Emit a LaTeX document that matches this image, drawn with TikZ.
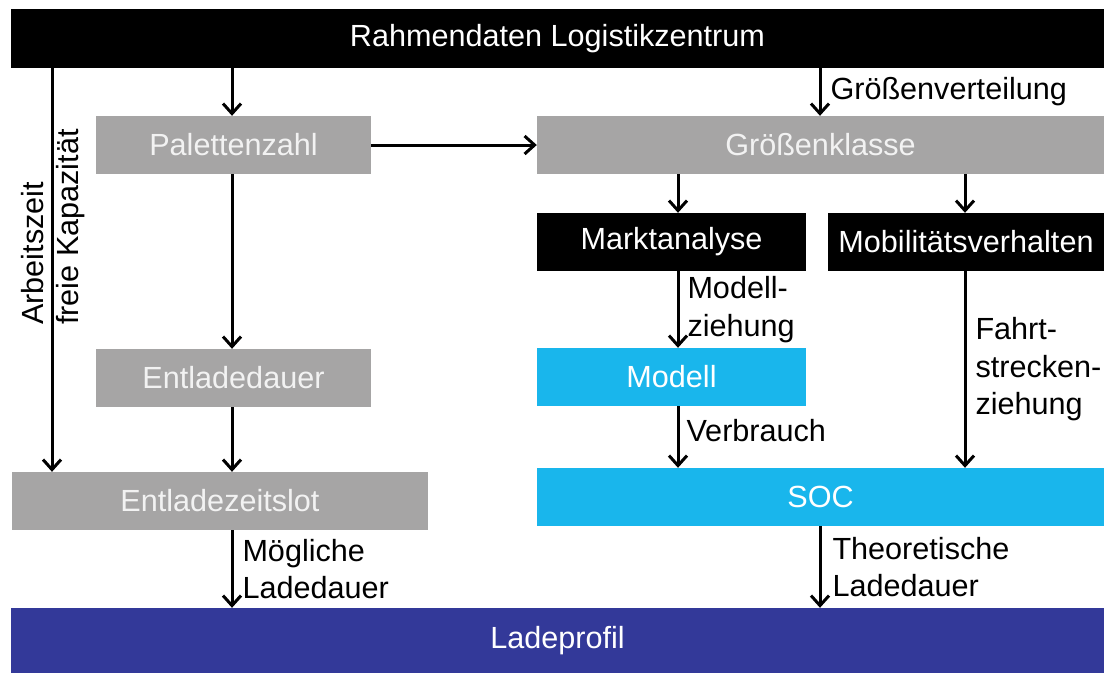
\documentclass[tikz,border=0pt]{standalone}
\usepackage{fontspec}
\setmainfont{Liberation Sans}
\usetikzlibrary{arrows.meta}
\definecolor{boxgray}{RGB}{166,165,165}
\definecolor{boxcyan}{RGB}{25,182,236}
\definecolor{boxblue}{RGB}{51,57,153}
\begin{document}
\begin{tikzpicture}[x=1pt,y=-1pt,
  every node/.style={font=\fontsize{30.6}{37.5}\selectfont},
  block/.style={rectangle, inner sep=0pt, text=white, draw=none},
  graybox/.style={block, fill=boxgray, text=white!95!black},
  blackbox/.style={block, fill=black},
  cyanbox/.style={block, fill=boxcyan},
  bluebox/.style={block, fill=boxblue},
  flow/.style={line width=3pt, -{Straight Barb[length=10pt,width=18pt,line width=3pt]}},
  lab/.style={inner sep=0pt, align=left, text=black, anchor=west},
]
\useasboundingbox (0,0) rectangle (1105,673);

% boxes
\node[blackbox, minimum width=1093pt, minimum height=59pt] (top) at (557.5,38.5) {Rahmendaten Logistikzentrum};
\node[graybox, minimum width=275pt, minimum height=58pt] (pz) at (233.5,145) {Palettenzahl};
\node[graybox, minimum width=567pt, minimum height=58pt] (gk) at (820.5,145) {Größenklasse};
\node[blackbox, minimum width=269pt, minimum height=58pt] (ma) at (671.5,242) {Marktanalyse};
\node[blackbox, minimum width=276pt, minimum height=58pt] (mv) at (966,242) {Mobilitätsverhalten};
\node[graybox, minimum width=275pt, minimum height=58pt] (ed) at (233.5,378) {Entladedauer};
\node[cyanbox, minimum width=269pt, minimum height=58pt] (mo) at (671.5,377) {Modell};
\node[graybox, minimum width=416pt, minimum height=58pt] (ez) at (220,501) {Entladezeitslot};
\node[cyanbox, minimum width=567pt, minimum height=58pt] (soc) at (820.5,497) {SOC};
\node[bluebox, minimum width=1093pt, minimum height=65pt] (lp) at (557.5,640.5) {Ladeprofil};

% x positions of the vertical connectors
\coordinate (cA) at (52,0);
\coordinate (cL) at (232,0);
\coordinate (cM) at (678,0);
\coordinate (cG) at (820,0);
\coordinate (cR) at (965,0);

% connectors
\draw[flow] (top.south -| cA) -- (ez.north -| cA);
\node[lab, rotate=90] (az) at (33,325) {Arbeitszeit};
\node[lab, rotate=90] (fk) at (71,325) {freie Kapazität};

\draw[flow] (top.south -| cL) -- (pz.north -| cL);
\draw[flow] (top.south -| cG) -- node[lab, xshift=9pt] {Größenverteilung} (gk.north -| cG);
\draw[flow] (pz.east) -- (gk.west);
\draw[flow] (pz.south -| cL) -- (ed.north -| cL);
\draw[flow] (ed.south -| cL) -- (ez.north -| cL);
\draw[flow] (ez.south -| cL) -- node[lab, xshift=9pt] {Mögliche\\Ladedauer} (lp.north -| cL);
\draw[flow] (gk.south -| cM) -- (ma.north -| cM);
\draw[flow] (gk.south -| cR) -- (mv.north -| cR);
\draw[flow] (ma.south -| cM) -- node[lab, xshift=8pt] {Modell-\\ziehung} (mo.north -| cM);
\draw[flow] (mo.south -| cM) -- node[lab, xshift=7pt, pos=0.4] {Verbrauch} (soc.north -| cM);
\draw[flow] (mv.south -| cR) -- node[lab, xshift=9pt] {Fahrt-\\strecken-\\ziehung} (soc.north -| cR);
\draw[flow] (soc.south -| cG) -- node[lab, xshift=11pt] {Theoretische\\Ladedauer} (lp.north -| cG);
\end{tikzpicture}
\end{document}
